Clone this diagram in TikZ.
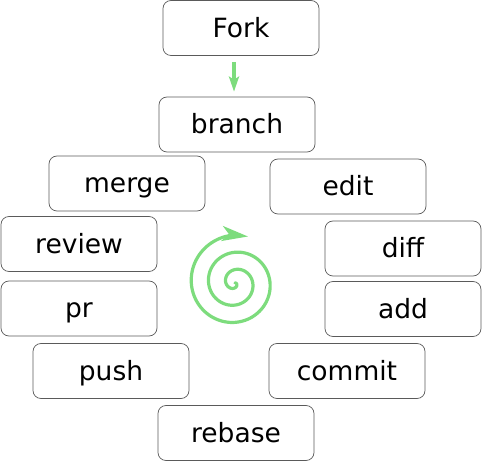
\documentclass[tikz,border=0pt]{standalone}
\usepackage{fontspec}
\setmainfont{DejaVu Sans}
\usetikzlibrary{arrows.meta}
\definecolor{lgreen}{RGB}{125,220,125}
\definecolor{boxgray}{RGB}{90,90,90}
\begin{document}
\begin{tikzpicture}[x=1pt,y=-1pt,
  stepbox/.style={draw=boxgray, line width=0.7pt, rounded corners=8pt,
    minimum width=156pt, minimum height=55pt, inner sep=0pt,
    text height=23pt, text depth=4pt,
    font=\fontsize{26.5}{30}\selectfont},
  flow/.style={draw=lgreen, line width=3.5pt, -{Stealth[length=15pt,width=10pt,inset=3pt]}},
  spiral/.style={draw=lgreen, line width=3.2pt, line cap=round, -{Stealth[length=26pt,width=15pt,inset=7pt]}}]
\useasboundingbox (0,0) rectangle (482,462);
\node[stepbox] (fork) at (241,28) {Fork};
\node[stepbox] (branch) at (237,124.5) {branch};
\node[stepbox] (merge) at (127,183.5) {merge};
\node[stepbox] (edit) at (348,186.5) {edit};
\node[stepbox] (review) at (79,244) {review};
\node[stepbox] (diff) at (403,248.5) {diff};
\node[stepbox] (pr) at (79,308.5) {pr};
\node[stepbox] (add) at (403,309) {add};
\node[stepbox] (push) at (111,371) {push};
\node[stepbox] (commit) at (347,371) {commit};
\node[stepbox] (rebase) at (236,433) {rebase};
\draw[flow, shorten <=6pt, shorten >=5pt] (fork.south -| 234,0) -- (branch.north -| 234,0);
\coordinate (sptip) at (248,236.5);
\draw[spiral] plot[domain=0:1000, samples=500, variable=\t]
  ({235 + 0.048*\t*cos(1090-\t)}, {283 - 0.048*\t*sin(1090-\t)}) -- (sptip);
\end{tikzpicture}
\end{document}
